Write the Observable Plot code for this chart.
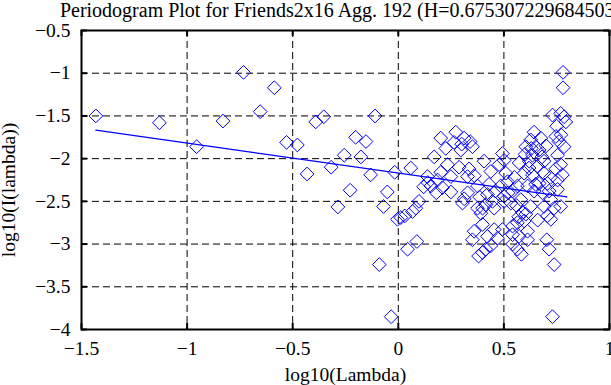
<!DOCTYPE html>
<html><head><meta charset="utf-8">
<script src="https://cdn.jsdelivr.net/npm/d3@7"></script>
<script src="https://cdn.jsdelivr.net/npm/@observablehq/plot@0.6"></script>
<style>body{margin:0;background:#fff}</style>
</head><body><div id="chart"></div>
<script>
const title = "Periodogram Plot for Friends2x16 Agg. 192 (H=0.6753072296845036)";
const xLabel = "log10(Lambda)";
const yLabel = "log10(I(lambda))";
const xTicks = [-1.5, -1, -0.5, 0, 0.5, 1];
const yTicks = [-4, -3.5, -3, -2.5, -2, -1.5, -1, -0.5];

const logLambda = [
  -1.432,-1.131,-0.955,-0.830,-0.733,-0.654,-0.587,-0.529,-0.478,-0.432,
  -0.391,-0.353,-0.318,-0.286,-0.256,-0.228,-0.202,-0.177,-0.153,-0.131,
  -0.110,-0.090,-0.070,-0.052,-0.034,-0.017,
  -0.004,0.012,0.031,0.044,0.059,0.067,0.083,0.088,0.098,0.138,
  0.140,0.154,0.170,0.186,0.201,0.201,0.209,0.225,0.233,0.249,
  0.249,0.264,0.272,0.288,0.296,0.304,0.312,0.312,0.328,0.328,
  0.335,0.351,0.351,0.359,0.375,0.375,0.391,0.399,0.399,0.399,
  0.406,0.414,0.414,0.422,0.422,0.438,0.438,0.446,0.454,0.454,
  0.470,0.477,0.485,0.493,0.493,0.501,0.501,0.501,0.509,0.517,
  0.533,0.541,0.541,0.541,0.541,0.564,0.564,0.564,0.572,0.572,
  0.580,0.583,0.588,0.596,0.596,0.604,0.604,0.612,0.612,0.612,
  0.619,0.627,0.627,0.635,0.635,0.643,0.643,0.651,0.659,0.667,
  0.667,0.675,0.683,0.690,0.690,0.690,0.703,0.706,0.706,0.714,
  0.714,0.722,0.722,0.730,0.730,0.738,0.738,0.746,0.754,0.754,
  0.754,0.761,0.769,0.769,0.769,0.777,0.780,0.780,0.785,0.785,
  0.793,
  0.360,0.385,0.430,0.460,0.520,0.550,0.620,0.650,0.680,0.700,
  0.720,0.745,0.180,0.120,0.560,0.660,0.380,0.600,0.630,0.750,
  0.770,0.570,0.300,0.340
];
const logI = [
  -1.50,-1.58,-1.86,-1.56,-0.99,-1.45,-1.17,-1.81,-1.84,-2.18,
  -1.57,-1.51,-2.10,-2.565,-1.96,-2.37,-1.75,-1.98,-1.80,-2.19,
  -1.50,-3.24,-2.56,-2.39,-3.85,-2.16,
  -2.71,-2.69,-2.67,-3.06,-2.11,-2.62,-2.58,-2.97,-2.50,-2.21,
  -2.28,-2.32,-1.98,-2.25,-1.76,-2.16,-2.34,-1.88,-2.07,-2.21,
  -2.39,-1.81,-1.69,-2.10,-1.90,-2.52,-1.76,-2.47,-2.21,-2.40,
  -2.12,-1.86,-2.95,-2.85,-2.32,-2.58,-2.64,-2.58,-2.77,-3.10,
  -2.03,-2.54,-3.06,-2.42,-2.91,-2.15,-3.02,-2.50,-2.58,-2.83,
  -2.93,-2.07,-2.32,-1.94,-2.83,-2.02,-2.44,-2.50,-2.17,-2.27,
  -2.52,-2.38,-2.79,-2.89,-3.00,-2.32,-2.75,-3.06,-2.05,-2.91,
  -2.48,-3.12,-2.63,-2.17,-2.73,-1.86,-2.65,-2.32,-2.85,-2.95,
  -2.11,-1.78,-2.56,-1.96,-2.19,-1.69,-2.38,-1.86,-2.09,-1.90,
  -2.29,-1.76,-2.40,-2.03,-2.17,-2.56,-2.95,-2.29,-2.67,-2.38,
  -3.06,-2.48,-2.71,-1.49,-3.85,-2.58,-3.24,-1.74,-1.96,-2.25,
  -2.36,-1.80,-1.47,-2.07,-2.56,-2.19,-1.17,-0.99,-1.51,-1.86,
  -1.57,
  -2.20,-2.45,-2.30,-2.38,-2.40,-2.22,-2.03,-2.30,-1.98,-1.85,
  -2.22,-2.12,-2.40,-2.33,-2.55,-2.72,-3.14,-1.95,-1.88,-1.62,
  -1.72,-2.68,-1.83,-1.80
];
const fitX = [-1.432, 0.798];
const fitY = [-1.666, -2.448];

const points = logLambda.map((x, i) => ({x, y: logI[i]}));
const fit = fitX.map((x, i) => ({x, y: fitY[i]}));

const W = 611, H = 385, mL = 81, mR = 2, mT = 30, mB = 56;
const fw = W - mL - mR, fh = H - mT - mB;
const tickLen = 6;
const fmt = d => (d < 0 ? "\u2212" : "") + Math.abs(d);
const blue = "#0000ff";

const chart = Plot.plot({
  width: W, height: H,
  marginLeft: mL, marginRight: mR, marginTop: mT, marginBottom: mB,
  x: {domain: [-1.5, 1]},
  y: {domain: [-4, -0.5]},
  style: {fontFamily: "'Liberation Serif', 'DejaVu Serif', serif", fontSize: "19.5px", background: "white", color: "black", overflow: "visible"},
  marks: [
    Plot.gridX(xTicks, {stroke: "black", strokeOpacity: 1, strokeWidth: 1, strokeDasharray: "7,4"}),
    Plot.gridY(yTicks, {stroke: "black", strokeOpacity: 1, strokeWidth: 1, strokeDasharray: "7,4"}),
    Plot.ruleX(xTicks, {x: d => d, insetTop: fh - tickLen, stroke: "black", strokeWidth: 2}),
    Plot.ruleX(xTicks, {x: d => d, insetBottom: fh - tickLen, stroke: "black", strokeWidth: 2}),
    Plot.ruleY(yTicks, {y: d => d, insetRight: fw - tickLen, stroke: "black", strokeWidth: 2}),
    Plot.ruleY(yTicks, {y: d => d, insetLeft: fw - tickLen, stroke: "black", strokeWidth: 2}),
    Plot.dot(points, {x: "x", y: "y", symbol: "diamond2", r: 6.2, stroke: blue, strokeWidth: 1, fill: "none"}),
    Plot.line(fit, {x: "x", y: "y", stroke: blue, strokeWidth: 1.3}),
    Plot.frame({stroke: "black", strokeWidth: 2}),
    Plot.axisX(xTicks, {tickSize: 0, tickPadding: 12, tickFormat: fmt, label: null, fontSize: 19.5}),
    Plot.axisY(yTicks, {tickSize: 0, tickPadding: 11, tickFormat: fmt, label: null, fontSize: 19.5}),
    Plot.text([xLabel], {frameAnchor: "bottom", lineAnchor: "bottom", dy: 51, fontSize: 19.5}),
    Plot.text([yLabel], {frameAnchor: "left", rotate: -90, textAnchor: "middle", lineAnchor: "top", dx: -80, dy: 10, fontSize: 19.5}),
    Plot.text([title], {frameAnchor: "top", lineAnchor: "bottom", dy: -14, fontSize: 20})
  ]
});
document.getElementById("chart").appendChild(chart);
</script>
</body></html>
